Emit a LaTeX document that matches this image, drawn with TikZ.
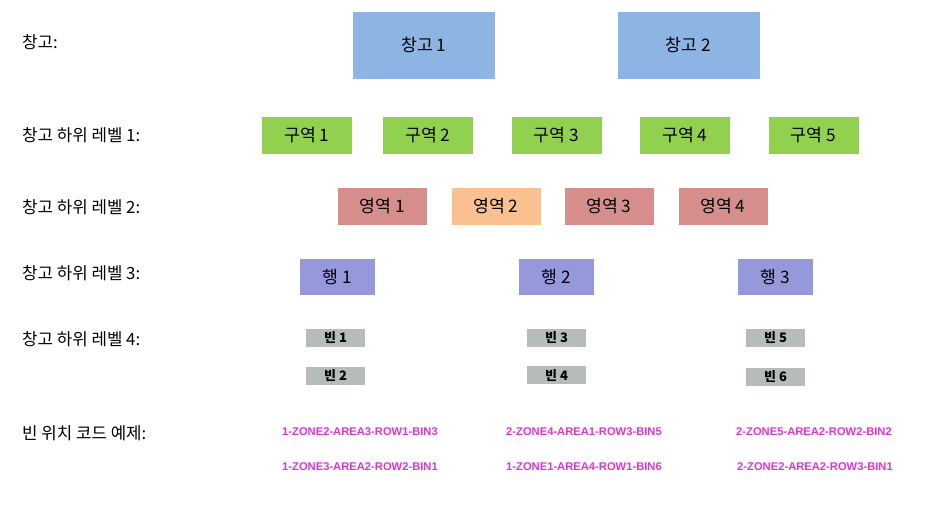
\documentclass[tikz,border=0pt]{standalone}
\usepackage{fontspec}
\setmainfont{Liberation Sans}
\newfontfamily\kr{Noto Sans CJK KR}
\definecolor{wblue}{HTML}{8EB4E3}
\definecolor{zgreen}{HTML}{92D050}
\definecolor{arose}{HTML}{D58E8C}
\definecolor{aorange}{HTML}{FAC090}
\definecolor{rpurple}{HTML}{9698DC}
\definecolor{bgray}{HTML}{B6BDB9}
\definecolor{codemag}{HTML}{E033D6}
\tikzset{
  lvl/.style={anchor=west,inner sep=0pt,font=\kr\fontsize{16.8}{18}\selectfont},
  boxbase/.style={inner sep=0pt,font=\kr\fontsize{17.2}{19}\selectfont,text=black},
  whbox/.style={boxbase,fill=wblue,minimum width=142pt,minimum height=67pt},
  zonebox/.style={boxbase,fill=zgreen,minimum width=90pt,minimum height=37pt},
  areabox/.style={boxbase,fill=arose,minimum width=89pt,minimum height=37pt},
  rowbox/.style={boxbase,fill=rpurple,minimum width=75pt,minimum height=36pt},
  binbox/.style={inner sep=0pt,fill=bgray,minimum width=59pt,minimum height=18pt,font=\kr\bfseries\fontsize{13}{14}\selectfont},
  codetxt/.style={inner sep=0pt,text=codemag,font=\bfseries\fontsize{11.2}{12}\selectfont}
}
\begin{document}
\begin{tikzpicture}[x=1pt,y=-1pt]
\useasboundingbox (0,0) rectangle (945,510);
% level labels
\node[lvl] (l0) at (22,42) {창고:};
\node[lvl] (l1) at (22,135) {창고 하위 레벨 1:};
\node[lvl] (l2) at (22,207) {창고 하위 레벨 2:};
\node[lvl] (l3) at (22,273) {창고 하위 레벨 3:};
\node[lvl] (l4) at (22,339) {창고 하위 레벨 4:};
\node[lvl] (l5) at (22,433) {빈 위치 코드 예제:};
% warehouses
\node[whbox] (w1) at (424,45.5) {창고 1};
\node[whbox] (w2) at (688.5,45.5) {창고 2};
% zones
\node[zonebox] (z1) at (307,135.5) {구역 1};
\node[zonebox] (z2) at (428,135.5) {구역 2};
\node[zonebox] (z3) at (556.5,135.5) {구역 3};
\node[zonebox] (z4) at (685,135.5) {구역 4};
\node[zonebox] (z5) at (813.5,135.5) {구역 5};
% areas
\node[areabox] (a1) at (382.5,206.5) {영역 1};
\node[areabox,fill=aorange] (a2) at (496,206.5) {영역 2};
\node[areabox] (a3) at (609,206.5) {영역 3};
\node[areabox] (a4) at (723,206.5) {영역 4};
% rows
\node[rowbox] (r1) at (337,277) {행 1};
\node[rowbox] (r2) at (556.5,277) {행 2};
\node[rowbox] (r3) at (775.5,277) {행 3};
% bins
\node[binbox] (b1) at (335.5,338) {빈 1};
\node[binbox] (b2) at (335.5,376) {빈 2};
\node[binbox] (b3) at (556.5,338) {빈 3};
\node[binbox] (b4) at (556.5,375.5) {빈 4};
\node[binbox] (b5) at (775.5,338) {빈 5};
\node[binbox] (b6) at (775.5,377) {빈 6};
% codes
\node[codetxt] (c1) at (360,432) {1-ZONE2-AREA3-ROW1-BIN3};
\node[codetxt] (c2) at (360,467) {1-ZONE3-AREA2-ROW2-BIN1};
\node[codetxt] (c3) at (584,432) {2-ZONE4-AREA1-ROW3-BIN5};
\node[codetxt] (c4) at (584,467) {1-ZONE1-AREA4-ROW1-BIN6};
\node[codetxt] (c5) at (814,432) {2-ZONE5-AREA2-ROW2-BIN2};
\node[codetxt] (c6) at (815,467) {2-ZONE2-AREA2-ROW3-BIN1};
\end{tikzpicture}
\end{document}
